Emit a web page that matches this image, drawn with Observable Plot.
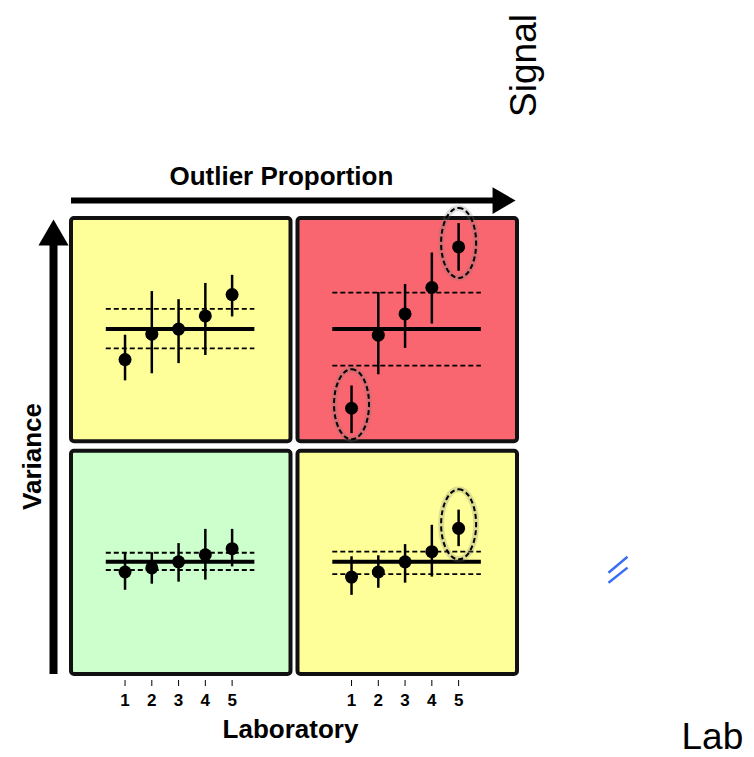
<!DOCTYPE html>
<html>
<head>
<meta charset="utf-8">
<script src="https://cdn.jsdelivr.net/npm/d3@7"></script>
<script src="https://cdn.jsdelivr.net/npm/@observablehq/plot@0.6"></script>
<style>
  body { margin: 0; background: #fff; }
  #chart svg { display: block; }
</style>
</head>
<body>
<div id="chart"></div>
<script>
// ---------- data ----------
const labs = [1, 2, 3, 4, 5];
const outlierLevels = ["Low", "High"];      // columns (Outlier Proportion)
const varianceLevels = ["High", "Low"];     // rows (Variance)
const panelOutlier = ["Low", "High", "Low", "High"];
const panelVariance = ["High", "High", "Low", "Low"];
const panelColors = ["#ffff99", "#f9666f", "#ccffcc", "#ffff99"];

const labEstimates = [
  [-3.0, -0.5, 0.0, 1.3, 3.4],
  [-7.8, -0.6, 1.5, 4.1, 8.1],
  [-1.0, -0.6, 0.0, 0.7, 1.3],
  [-1.5, -1.0, 0.0, 1.0, 3.3]
];
const labLower = [
  [-5.1, -4.4, -3.4, -2.6, 1.2],
  [-10.3, -4.5, -1.9, 0.5, 5.7],
  [-2.8, -2.2, -2.0, -1.8, -0.5],
  [-3.3, -2.6, -2.1, -1.5, 1.5]
];
const labUpper = [
  [-0.6, 3.7, 2.9, 4.5, 5.3],
  [-5.6, 3.6, 4.4, 7.5, 10.4],
  [0.9, 0.9, 1.8, 3.2, 3.2],
  [0.5, 0.6, 1.7, 3.6, 5.1]
];
const consensus = [0, 0, 0, 0];
const upperLimit = [2.0, 3.6, 0.9, 1.0];
const lowerLimit = [-1.9, -3.6, -0.8, -1.2];
const flaggedLabs = [[], [1, 5], [], [5]];

// ---------- tables built from the arrays ----------
const X_DOMAIN = [-1, 7.2];
const Y_DOMAIN = [-11.1, 10.9];
const LINE_FROM = 0.3, LINE_TO = 5.85;

const panels = panelOutlier.map((o, i) => ({
  outlier: o, variance: panelVariance[i], color: panelColors[i],
  mean: consensus[i], upper: upperLimit[i], lower: lowerLimit[i]
}));
const points = panels.flatMap((p, i) => labs.map((lab, j) => ({
  outlier: p.outlier, variance: p.variance, lab,
  est: labEstimates[i][j], lo: labLower[i][j], hi: labUpper[i][j]
})));
const flagged = points.filter((d) => {
  const i = panels.findIndex((p) => p.outlier === d.outlier && p.variance === d.variance);
  return flaggedLabs[i].includes(d.lab);
});
const tickLabels = outlierLevels.flatMap((o) => labs.map((lab) => ({outlier: o, variance: varianceLevels[1], lab})));

// ---------- annotation layout (scale units of the panel they sit in) ----------
const arrowV = [{outlier: "Low", variance: "High", x: -1.672, y1: -34.03, y2: 8.6, head: 8.24}];
const arrowH = [{outlier: "Low", variance: "High", y: 12.67, x1: -1, x2: 15.0, head: 14.73}];
const labelsBold = [
  {outlier: "Low", variance: "High", x: 6.84, y: 15.05, text: "Outlier Proportion", rotate: 0},
  {outlier: "Low", variance: "High", x: -2.457, y: -12.55, text: "Variance", rotate: -90},
  {outlier: "Low", variance: "Low", x: 7.18, y: -16.55, text: "Laboratory", rotate: 0}
];
const labelsPlain = [
  {outlier: "High", variance: "High", x: 7.46, y: 25.98, text: "Signal", rotate: -90},
  {outlier: "High", variance: "Low", x: 14.48, y: -17.3, text: "Lab", rotate: 0}
];
const breakMark = [
  {outlier: "High", variance: "Low", x1: 10.60, y1: -1.07, x2: 11.31, y2: 0.50},
  {outlier: "High", variance: "Low", x1: 10.60, y1: -2.06, x2: 11.31, y2: -0.57}
];

// ---------- custom symbols ----------
const ellipseSymbol = {
  draw(ctx, size) {
    const ry = Math.sqrt(size / Math.PI), rx = ry * 0.5, k = 0.5523;
    ctx.moveTo(0, -ry);
    ctx.bezierCurveTo(k * rx, -ry, rx, -k * ry, rx, 0);
    ctx.bezierCurveTo(rx, k * ry, k * rx, ry, 0, ry);
    ctx.bezierCurveTo(-k * rx, ry, -rx, k * ry, -rx, 0);
    ctx.bezierCurveTo(-rx, -k * ry, -k * rx, -ry, 0, -ry);
    ctx.closePath();
  }
};
const arrowHead = {
  draw(ctx, size) {
    const r = Math.sqrt(size / Math.PI);
    ctx.moveTo(0, -r);
    ctx.lineTo(r * 0.58, 0);
    ctx.lineTo(-r * 0.58, 0);
    ctx.closePath();
  }
};

const F = "Liberation Sans, Arial, sans-serif";

const chart = Plot.plot({
  width: 754,
  height: 757,
  marginTop: 218,
  marginBottom: 83,
  marginLeft: 71,
  marginRight: 237,
  style: {fontFamily: F, background: "transparent", color: "black", overflow: "visible"},
  fx: {domain: outlierLevels, paddingInner: 0.0309, paddingOuter: 0, round: false, axis: null},
  fy: {domain: varianceLevels, paddingInner: 0.0408, paddingOuter: 0, round: false, axis: null},
  x: {domain: X_DOMAIN},
  y: {domain: Y_DOMAIN, axis: null},
  marks: [
    // panels
    Plot.rect(panels, {
      fx: "outlier", fy: "variance",
      x1: () => X_DOMAIN[0], x2: () => X_DOMAIN[1],
      y1: () => Y_DOMAIN[0], y2: () => Y_DOMAIN[1],
      fill: "color", stroke: "#111", strokeWidth: 4, rx: 3
    }),
    // consensus line and limits
    Plot.ruleY(panels, {fx: "outlier", fy: "variance", y: "mean", x1: () => LINE_FROM, x2: () => LINE_TO, stroke: "black", strokeWidth: 4}),
    Plot.ruleY(panels, {fx: "outlier", fy: "variance", y: "upper", x1: () => LINE_FROM, x2: () => LINE_TO, stroke: "black", strokeWidth: 1.8, strokeDasharray: "5,3"}),
    Plot.ruleY(panels, {fx: "outlier", fy: "variance", y: "lower", x1: () => LINE_FROM, x2: () => LINE_TO, stroke: "black", strokeWidth: 1.8, strokeDasharray: "5,3"}),
    // error bars and estimates
    Plot.ruleX(points, {fx: "outlier", fy: "variance", x: "lab", y1: "lo", y2: "hi", stroke: "black", strokeWidth: 2.5}),
    Plot.dot(points, {fx: "outlier", fy: "variance", x: "lab", y: "est", r: 6.5, fill: "black", stroke: "none"}),
    // flagged labs
    Plot.dot(flagged, {fx: "outlier", fy: "variance", x: "lab", y: "est", dy: -4, r: 35, symbol: ellipseSymbol, fill: "none", stroke: "#777", strokeOpacity: 0.25, strokeWidth: 6}),
    Plot.dot(flagged, {fx: "outlier", fy: "variance", x: "lab", y: "est", dy: -4, r: 35, symbol: ellipseSymbol, fill: "none", stroke: "black", strokeWidth: 2, strokeDasharray: "5,3"}),
    // laboratory axis: ticks + labels
    Plot.axisX({ticks: labs, tickFormat: () => "", tickSize: 6, dy: 6, label: null, anchor: "bottom"}),
    Plot.text(tickLabels, {fx: "outlier", fy: "variance", x: "lab", y: () => Y_DOMAIN[0], dy: 26, text: (d) => String(d.lab), fontSize: 17, fontWeight: "bold", fill: "black", lineAnchor: "middle"}),
    // arrows
    Plot.ruleX(arrowV, {fx: "outlier", fy: "variance", x: "x", y1: "y1", y2: "y2", stroke: "black", strokeWidth: 8}),
    Plot.dot(arrowV, {fx: "outlier", fy: "variance", x: "x", y: "head", r: 26, symbol: arrowHead, fill: "black", stroke: "none"}),
    Plot.ruleY(arrowH, {fx: "outlier", fy: "variance", y: "y", x1: "x1", x2: "x2", stroke: "black", strokeWidth: 6}),
    Plot.dot(arrowH, {fx: "outlier", fy: "variance", x: "head", y: "y", r: 23, rotate: 90, symbol: arrowHead, fill: "black", stroke: "none"}),
    // titles
    Plot.text(labelsBold, {fx: "outlier", fy: "variance", x: "x", y: "y", text: "text", rotate: "rotate", fontSize: 26, fontWeight: "bold", fill: "black", textAnchor: "middle", lineAnchor: "middle"}),
    Plot.text(labelsPlain, {fx: "outlier", fy: "variance", x: "x", y: "y", text: "text", rotate: "rotate", fontSize: 37, fill: "black", textAnchor: "middle", lineAnchor: "middle"}),
    Plot.link(breakMark, {fx: "outlier", fy: "variance", x1: "x1", y1: "y1", x2: "x2", y2: "y2", stroke: "#3a6cf4", strokeWidth: 2.5})
  ]
});
document.getElementById("chart").appendChild(chart);
</script>
</body>
</html>
